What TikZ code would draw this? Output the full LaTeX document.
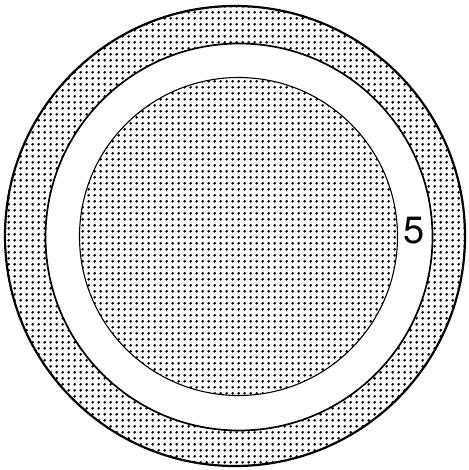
\documentclass[tikz,border=0pt]{standalone}
\usepackage{fontspec}
\setmainfont{TeX Gyre Heros}
\usetikzlibrary{patterns.meta}
\tikzdeclarepattern{
  name=halftone,
  type=uncolored,
  bounding box={(0pt,0pt) and (5.7pt,5.7pt)},
  tile size={(5.7pt,5.7pt)},
  code={\fill (2.85pt,2.85pt) circle (1.55pt);}
}
\begin{document}
\begin{tikzpicture}[x=1pt,y=1pt,
  dotted fill/.style={pattern={halftone},pattern color=black},
  rim/.style={line width=2.2pt},
  label text/.style={font=\fontsize{38}{38}\selectfont,inner sep=0pt}]
  \useasboundingbox (0,0) rectangle (468,-470);
  \coordinate (outer) at (235,-236);
  \coordinate (gap) at (239,-237);
  \coordinate (core) at (238.5,-236.5);
  \fill[dotted fill,even odd rule] (outer) circle (230) (gap) circle (193.5);
  \draw[rim] (outer) circle (230);
  \draw[line width=1.7pt] (gap) circle (193.5);
  \fill[dotted fill] (core) circle (159);
  \draw[line width=1.1pt] (core) circle (159);
  \node[label text] (five) at (414,-231) {5};
\end{tikzpicture}
\end{document}
